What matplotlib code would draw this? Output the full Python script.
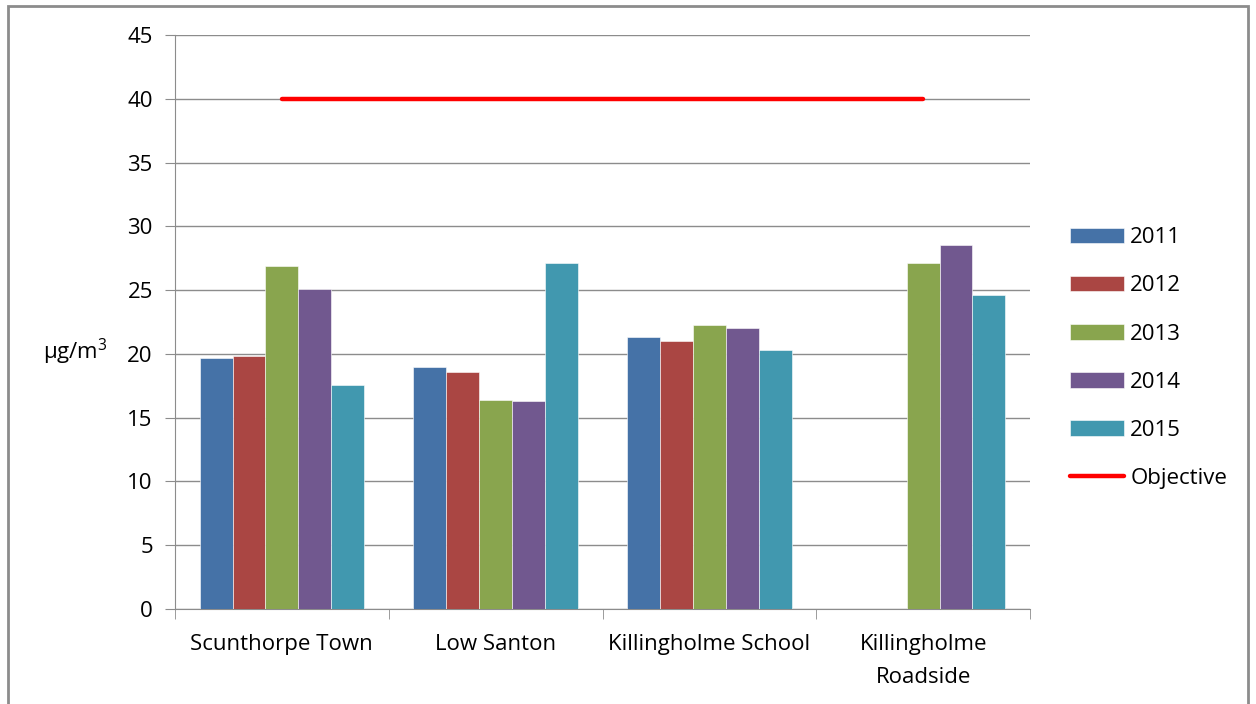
import numpy as np
import matplotlib.pyplot as plt
from matplotlib.patches import Rectangle

sites = ["Scunthorpe Town", "Low Santon", "Killingholme School", "Killingholme\nRoadside"]
years = ["2011", "2012", "2013", "2014", "2015"]
no2_2011 = [19.7, 19.0, 21.3, np.nan]
no2_2012 = [19.8, 18.6, 21.0, np.nan]
no2_2013 = [26.9, 16.4, 22.3, 27.1]
no2_2014 = [25.1, 16.3, 22.0, 28.5]
no2_2015 = [17.6, 27.1, 20.3, 24.6]
objective = [40, 40, 40, 40]

series = [no2_2011, no2_2012, no2_2013, no2_2014, no2_2015]
colors = ["#4572A7", "#AA4643", "#89A54E", "#71588F", "#4198AF"]

plt.rcParams['font.family'] = ['Open Sans', 'DejaVu Sans']
plt.rcParams['mathtext.default'] = 'regular'
FS = 16

fig = plt.figure(figsize=(12.56, 7.04), dpi=100)
ax = fig.add_axes([175 / 1256, 1 - 609 / 704, 855 / 1256, 574 / 704])

x = np.arange(len(sites))
width = 1 / 6.5
for i, (vals, c, yr) in enumerate(zip(series, colors, years)):
    ax.bar(x + (i - 2) * width, vals, width, color=c, label=yr,
           edgecolor="white", linewidth=0.4, zorder=3)

ax.plot(x, objective, color="#FF0000", lw=3.2, label="Objective", zorder=4,
        solid_capstyle="round")

ax.set_xlim(-0.5, 3.5)
ax.set_ylim(0, 45)
ax.set_yticks(range(0, 46, 5))
ax.yaxis.grid(True, color="#8c8c8c", lw=1)
ax.set_axisbelow(True)

ax.set_xticks(x)
ax.set_xticklabels(sites, fontsize=FS, linespacing=1.75)
ax.set_xticks(np.arange(-0.5, 4, 1), minor=True)
ax.tick_params(axis="x", which="major", length=0, pad=18)
ax.tick_params(axis="x", which="minor", length=7, color="#8c8c8c")
ax.tick_params(axis="y", length=7, color="#8c8c8c", labelsize=FS, pad=9)

for s in ["top", "right"]:
    ax.spines[s].set_visible(False)
for s in ["left", "bottom"]:
    ax.spines[s].set_color("#8c8c8c")

fig.text(75 / 1256, 1 - 352 / 704, "µg/m$^3$", fontsize=FS, ha="center", va="center")

# bars first, objective line last in the legend
handles, labels = ax.get_legend_handles_labels()
order = [1, 2, 3, 4, 5, 0]
ax.legend([handles[k] for k in order], [labels[k] for k in order],
          loc="center left", bbox_to_anchor=(1.047, 0.437), frameon=False,
          fontsize=FS, handlelength=2.4, handleheight=0.7, labelspacing=1.22,
          handletextpad=0.3, borderaxespad=0, borderpad=0)

fig.patches.append(Rectangle((8 / 1256, -0.02), 1240 / 1256, 1 - 6 / 704 + 0.02,
                             transform=fig.transFigure, fill=False,
                             edgecolor="#8c8c8c", lw=2))

fig.savefig("out.png", dpi=100)
